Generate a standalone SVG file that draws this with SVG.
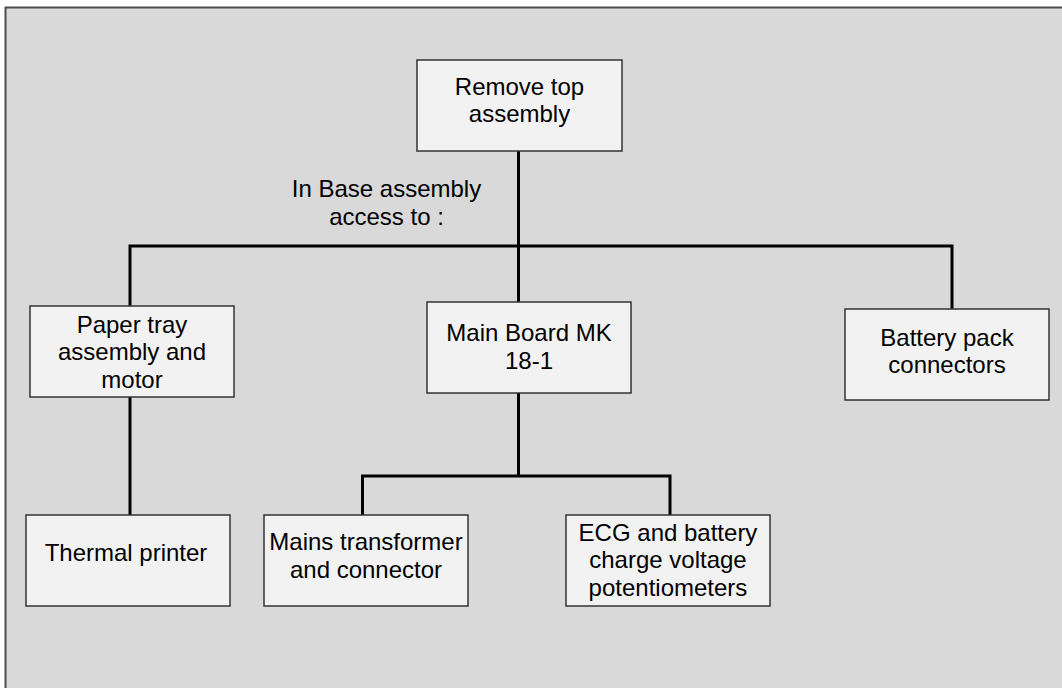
<svg xmlns="http://www.w3.org/2000/svg" width="1062" height="688" viewBox="0 0 1062 688">
<style>
.box{fill:#f2f2f2;stroke:#333;stroke-width:1.5}
.t{font-family:"Liberation Sans",Arial,sans-serif;font-size:24px;fill:#000;text-anchor:middle}
.c{fill:none;stroke:#000;stroke-width:3;stroke-linejoin:miter;stroke-linecap:butt}
</style>
<rect x="0" y="0" width="1062" height="688" fill="#fff"/>
<rect x="5.5" y="7.5" width="1100" height="700" fill="#d9d9d9" stroke="#4d4d4d" stroke-width="2"/>
<g id="connectors">
<path class="c" d="M518.5 151 V302"/>
<path class="c" d="M130 306 V246 H952 V309"/>
<path class="c" d="M130 397 V515"/>
<path class="c" d="M518.5 393 V476"/>
<path class="c" d="M362.5 515 V476 H670 V515"/>
</g>
<g id="label-base">
<text class="t" x="386.5" y="196.5">In Base assembly</text>
<text class="t" x="386.5" y="225">access to :</text>
</g>
<g id="node-top">
<rect class="box" x="417" y="60" width="205" height="91"/>
<text class="t" x="519.5" y="95" font-size="23">Remove top</text>
<text class="t" x="519.5" y="122">assembly</text>
</g>
<g id="node-paper">
<rect class="box" x="30" y="306" width="204" height="91"/>
<text class="t" x="132" y="332.5">Paper tray</text>
<text class="t" x="132" y="360">assembly and</text>
<text class="t" x="132" y="387.5">motor</text>
</g>
<g id="node-main">
<rect class="box" x="427" y="302" width="204" height="91"/>
<text class="t" x="529" y="341">Main Board MK</text>
<text class="t" x="529" y="369">18-1</text>
</g>
<g id="node-battery">
<rect class="box" x="845" y="309" width="204" height="91"/>
<text class="t" x="947" y="345.5">Battery pack</text>
<text class="t" x="947" y="373">connectors</text>
</g>
<g id="node-thermal">
<rect class="box" x="26" y="515" width="204" height="91"/>
<text class="t" x="126" y="560.5">Thermal printer</text>
</g>
<g id="node-mains">
<rect class="box" x="264" y="515" width="204" height="91"/>
<text class="t" x="366" y="550">Mains transformer</text>
<text class="t" x="366" y="577.5">and connector</text>
</g>
<g id="node-ecg">
<rect class="box" x="566" y="515" width="204" height="91"/>
<text class="t" x="668" y="540.5">ECG and battery</text>
<text class="t" x="668" y="568">charge voltage</text>
<text class="t" x="668" y="595.5">potentiometers</text>
</g>
</svg>
